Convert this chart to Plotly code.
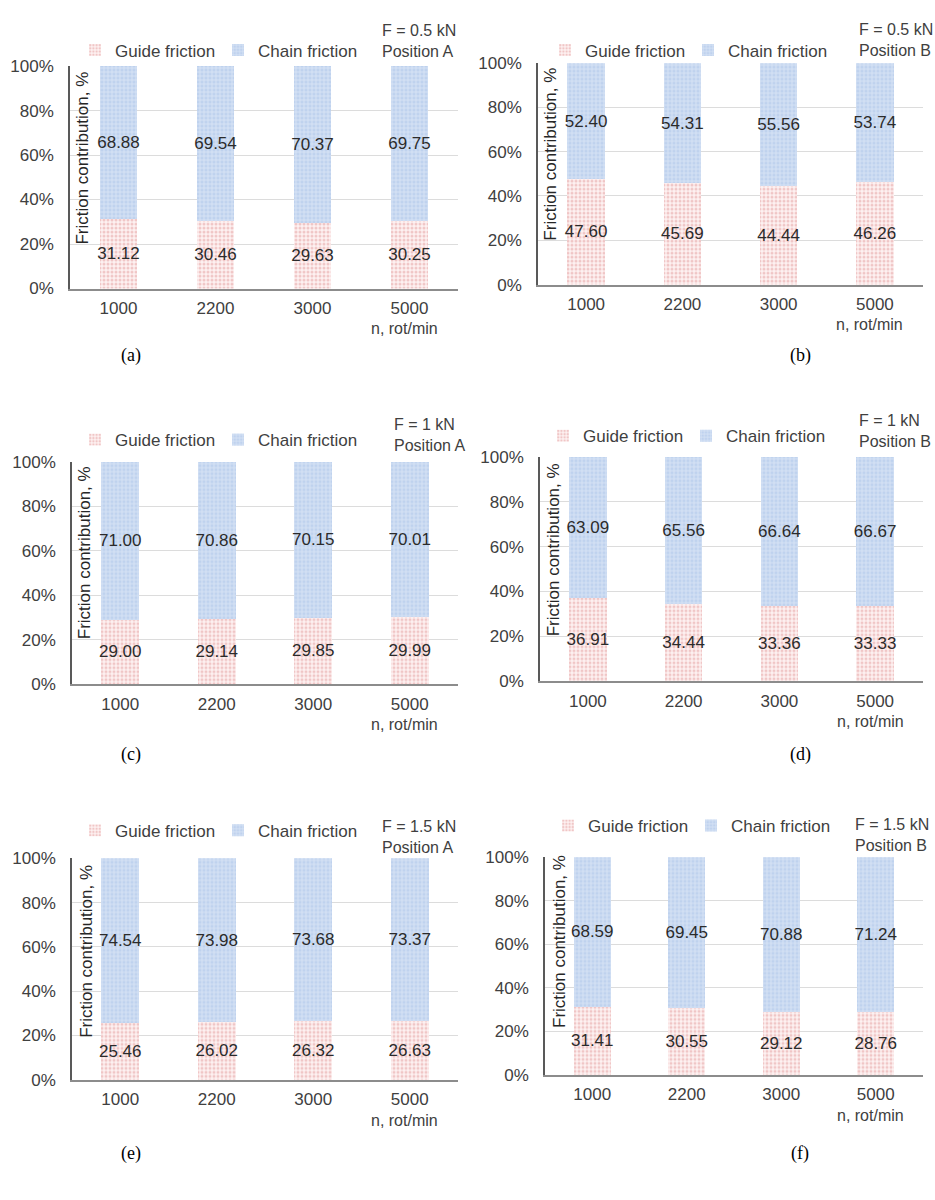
import plotly.graph_objects as go

# Rotational speed categories (rot/min)
speeds = ["1000", "2200", "3000", "5000"]

# Friction contribution shares, % (guide / chain) for each load case
guide_a = [31.12, 30.46, 29.63, 30.25]
chain_a = [68.88, 69.54, 70.37, 69.75]
guide_b = [47.60, 45.69, 44.44, 46.26]
chain_b = [52.40, 54.31, 55.56, 53.74]
guide_c = [29.00, 29.14, 29.85, 29.99]
chain_c = [71.00, 70.86, 70.15, 70.01]
guide_d = [36.91, 34.44, 33.36, 33.33]
chain_d = [63.09, 65.56, 66.64, 66.67]
guide_e = [25.46, 26.02, 26.32, 26.63]
chain_e = [74.54, 73.98, 73.68, 73.37]
guide_f = [31.41, 30.55, 29.12, 28.76]
chain_f = [68.59, 69.45, 70.88, 71.24]

load_labels = ["F = 0.5 kN<br>Position A", "F = 0.5 kN<br>Position B",
               "F = 1 kN<br>Position A", "F = 1 kN<br>Position B",
               "F = 1.5 kN<br>Position A", "F = 1.5 kN<br>Position B"]
captions = ["(a)", "(b)", "(c)", "(d)", "(e)", "(f)"]
y_ticks = [0, 20, 40, 60, 80, 100]
y_tick_text = ["0%", "20%", "40%", "60%", "80%", "100%"]

W, H = 935, 1200
FONT = "Liberation Sans, Arial, sans-serif"
TXT = "#404040"


def px_x(p):
    return p / W


def px_y(p):
    return 1 - p / H


# Panel geometry in pixels: plot left, right, top (100 %), bottom (0 %)
panels = [
    dict(g=guide_a, c=chain_a, box=(70, 458, 58, 284), leg=(75, 42), lab=(380, 33), ttl=(83, 152), cap=(131, 352)),
    dict(g=guide_b, c=chain_b, box=(538, 923, 55, 280), leg=(545, 42), lab=(857, 31), ttl=(551, 148), cap=(800, 352)),
    dict(g=guide_c, c=chain_c, box=(72, 458, 460, 686), leg=(75, 438), lab=(392, 433), ttl=(84, 553), cap=(131, 757)),
    dict(g=guide_d, c=chain_d, box=(540, 923, 455, 683), leg=(543, 434), lab=(857, 429), ttl=(553, 550), cap=(800, 757)),
    dict(g=guide_e, c=chain_e, box=(72, 458, 863, 1088), leg=(75, 835), lab=(380, 841), ttl=(87, 958), cap=(131, 1163)),
    dict(g=guide_f, c=chain_f, box=(545, 923, 862, 1083), leg=(548, 830), lab=(853, 839), ttl=(560, 948), cap=(800, 1163)),
]

guide_pattern = dict(shape=".", fgcolor="#e49c9c", bgcolor="#fdf1f1", size=4, solidity=0.45)
chain_pattern = dict(shape="+", fgcolor="#f4f7fc", bgcolor="#bfd2ee", size=4, solidity=0.4)

fig = go.Figure()
layout = dict(
    width=W, height=H,
    margin=dict(l=0, r=0, t=0, b=0),
    paper_bgcolor="white", plot_bgcolor="white",
    barmode="stack",
    bargap=0.61,
    font=dict(family=FONT, size=17, color=TXT),
    annotations=[],
)

for i, p in enumerate(panels):
    n = i + 1
    xa = "x" if n == 1 else f"x{n}"
    ya = "y" if n == 1 else f"y{n}"
    leg = "legend" if n == 1 else f"legend{n}"
    l, r, t, b = p["box"]

    fig.add_trace(go.Bar(
        x=speeds, y=p["g"], name="Guide friction",
        xaxis=xa, yaxis=ya, legend=leg,
        marker=dict(color="#fdf1f1", line=dict(width=0), pattern=guide_pattern),
        text=[f"{v:.2f}" for v in p["g"]], textposition="inside",
        insidetextanchor="middle", textangle=0, constraintext="none",
        textfont=dict(size=17, color="#2b2b2b"),
        hoverinfo="skip",
    ))
    fig.add_trace(go.Bar(
        x=speeds, y=p["c"], name="Chain friction",
        xaxis=xa, yaxis=ya, legend=leg,
        marker=dict(color="#bfd2ee", line=dict(width=0), pattern=chain_pattern),
        text=[f"{v:.2f}" for v in p["c"]], textposition="inside",
        insidetextanchor="middle", textangle=0, constraintext="none",
        textfont=dict(size=17, color="#2b2b2b"),
        hoverinfo="skip",
    ))

    sfx = "" if n == 1 else str(n)
    layout[f"xaxis{sfx}"] = dict(
        domain=[px_x(l), px_x(r)], anchor=ya,
        type="category", range=[-0.5, len(speeds) - 0.5],
        showgrid=False,
        showline=True, linecolor="#8c8c8c", linewidth=2,
        ticks="", ticklabelstandoff=3,
        tickfont=dict(size=17, color=TXT, family=FONT),
        fixedrange=True,
    )
    layout[f"yaxis{sfx}"] = dict(
        domain=[px_y(b), px_y(t)], anchor=xa,
        range=[0, 100], tickvals=y_ticks, ticktext=y_tick_text,
        showgrid=True, gridcolor="#dcdcdc", gridwidth=1,
        showline=True, linecolor="#595959", linewidth=1.5,
        zeroline=False, ticks="", ticklabelstandoff=11,
        tickfont=dict(size=17, color=TXT, family=FONT),
        fixedrange=True,
    )
    layout[leg] = dict(
        orientation="h", x=px_x(p["leg"][0]), y=px_y(p["leg"][1]),
        xanchor="left", yanchor="middle",
        bgcolor="rgba(0,0,0,0)", borderwidth=0,
        font=dict(size=17, color=TXT, family=FONT),
        entrywidth=98, itemwidth=30, traceorder="normal",
    )

    ann = layout["annotations"]
    ann.append(dict(
        text=load_labels[i], xref="paper", yref="paper",
        x=px_x(p["lab"][0]), y=px_y(p["lab"][1]),
        xanchor="left", yanchor="middle", align="left", showarrow=False,
        font=dict(size=16, color=TXT, family=FONT),
    ))
    ann.append(dict(
        text="Friction contribution, %", xref="paper", yref="paper",
        x=px_x(p["ttl"][0]), y=px_y(p["ttl"][1]),
        xanchor="center", yanchor="middle", textangle=-90, showarrow=False,
        font=dict(size=17, color="#262626", family=FONT),
    ))
    ann.append(dict(
        text="n, rot/min", xref=xa, yref="paper",
        x=len(speeds) - 1, y=px_y(b + 41), xshift=-5,
        xanchor="center", yanchor="middle", showarrow=False,
        font=dict(size=16, color=TXT, family=FONT),
    ))
    ann.append(dict(
        text=captions[i], xref="paper", yref="paper",
        x=px_x(p["cap"][0]), y=px_y(p["cap"][1]),
        xanchor="center", yanchor="middle", showarrow=False,
        font=dict(size=18, color="#000000", family="Liberation Serif, Times New Roman, serif"),
    ))

fig.update_layout(**layout)
fig.write_html("out.html")
